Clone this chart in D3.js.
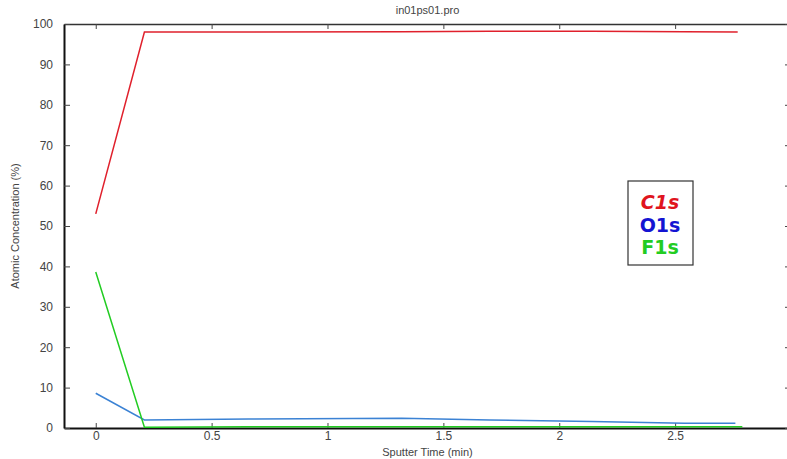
<!DOCTYPE html>
<html>
<head>
<meta charset="utf-8">
<script src="https://cdn.jsdelivr.net/npm/d3@7"></script>
<style>
  body { margin: 0; background: #fff; }
  svg { display: block; }
</style>
</head>
<body>
<div id="chart"></div>
<script>
// data
var title = "in01ps01.pro";
var xLabel = "Sputter Time (min)";
var yLabel = "Atomic Concentration (%)";

var c1sTime = [0, 0.21, 0.66, 1.32, 1.70, 2.14, 2.54, 2.77];
var c1sValue = [53, 98, 98, 98.1, 98.2, 98.2, 98.1, 98];

var o1sTime = [0, 0.21, 0.66, 1.32, 1.70, 2.14, 2.54, 2.76];
var o1sValue = [8.6, 2.0, 2.2, 2.4, 2.0, 1.6, 1.2, 1.2];

var f1sTime = [0, 0.21, 0.66, 1.32, 1.70, 2.14, 2.54, 2.79];
var f1sValue = [38.6, 0.2, 0.3, 0.3, 0.3, 0.3, 0.3, 0.3];

var xTicks = [0, 0.5, 1, 1.5, 2, 2.5, 3];
var yTicks = [0, 10, 20, 30, 40, 50, 60, 70, 80, 90, 100];

var legendNames = ["C1s", "O1s", "F1s"];
var legendColors = ["#e0141e", "#1414d2", "#22cc22"];
var lineColors = ["#e0202c", "#3b82d4", "#22cc22"];

var width = 787, height = 459;
var margin = {top: 24, right: -4, bottom: 31, left: 64};

var svg = d3.select("#chart").append("svg")
    .attr("width", width)
    .attr("height", height);

var x = d3.scaleLinear()
    .domain([-0.137, 3.0])
    .range([margin.left, width - margin.right]);

var y = d3.scaleLinear()
    .domain([0, 100])
    .range([height - margin.bottom, margin.top]);

var fmt = function(d){ return d3.format("~g")(d); };

// bottom axis, ticks pointing inward
var xAxis = svg.append("g")
    .attr("transform", "translate(0," + y(0) + ")")
    .call(d3.axisBottom(x).tickValues(xTicks).tickSizeInner(-5).tickSizeOuter(0).tickPadding(3).tickFormat(fmt));
xAxis.select(".domain").attr("stroke", "#111").attr("stroke-width", 2);

// top axis (frame)
var xTop = svg.append("g")
    .attr("transform", "translate(0," + y(100) + ")")
    .call(d3.axisTop(x).tickValues(xTicks).tickSizeInner(-5).tickSizeOuter(0).tickFormat(""));
xTop.select(".domain").attr("stroke", "#333").attr("stroke-width", 1.5);

// left axis
var yAxis = svg.append("g")
    .attr("transform", "translate(" + margin.left + ",0)")
    .call(d3.axisLeft(y).tickValues(yTicks).tickSizeInner(-6).tickSizeOuter(0).tickPadding(11));
yAxis.select(".domain").attr("stroke", "#111").attr("stroke-width", 2);

// right axis (mostly cut off)
svg.append("g")
    .attr("transform", "translate(" + x(3) + ",0)")
    .call(d3.axisRight(y).tickValues(yTicks).tickSizeInner(-6).tickSizeOuter(0).tickFormat(""))
    .select(".domain").attr("stroke", "#333");

svg.selectAll(".tick line").attr("stroke", "#444");
svg.selectAll(".tick text")
    .attr("fill", "#444")
    .style("font-family", "Liberation Sans, Arial, sans-serif")
    .style("font-size", "12px");

// series lines
var line = d3.line()
    .x(function(d){ return x(d[0]); })
    .y(function(d){ return y(d[1]); });

var series = [
  d3.zip(c1sTime, c1sValue),
  d3.zip(o1sTime, o1sValue),
  d3.zip(f1sTime, f1sValue)
];

svg.selectAll(".series")
    .data(series)
    .enter()
    .append("path")
      .attr("class", "series")
      .attr("d", line)
      .attr("fill", "none")
      .attr("stroke", function(d, i){ return lineColors[i]; })
      .attr("stroke-width", 1.5);

// title and axis labels
svg.append("text")
    .attr("x", (x(-0.137) + x(3)) / 2)
    .attr("y", 14)
    .attr("text-anchor", "middle")
    .attr("fill", "#444")
    .style("font-family", "Liberation Sans, Arial, sans-serif")
    .style("font-size", "11px")
    .text(title);

svg.append("text")
    .attr("x", (x(-0.137) + x(3)) / 2)
    .attr("y", 456)
    .attr("text-anchor", "middle")
    .attr("fill", "#444")
    .style("font-family", "Liberation Sans, Arial, sans-serif")
    .style("font-size", "11px")
    .text(xLabel);

svg.append("text")
    .attr("transform", "translate(19," + ((y(0) + y(100)) / 2) + ") rotate(-90)")
    .attr("text-anchor", "middle")
    .attr("fill", "#444")
    .style("font-family", "Liberation Sans, Arial, sans-serif")
    .style("font-size", "11px")
    .text(yLabel);

// legend box
var legend = svg.append("g").attr("transform", "translate(628,181)");
legend.append("rect")
    .attr("width", 65)
    .attr("height", 84)
    .attr("fill", "#fff")
    .attr("stroke", "#333")
    .attr("stroke-width", 1.2);

legend.selectAll("text")
    .data(legendNames)
    .enter()
    .append("text")
      .attr("x", 32)
      .attr("y", function(d, i){ return 28 + i * 22.5; })
      .attr("text-anchor", "middle")
      .attr("fill", function(d, i){ return legendColors[i]; })
      .style("font-family", "DejaVu Sans, sans-serif")
      .style("font-size", "19px")
      .style("font-weight", "bold")
      .style("font-style", function(d, i){ return i == 0 ? "italic" : "normal"; })
      .text(function(d){ return d; });
</script>
</body>
</html>
